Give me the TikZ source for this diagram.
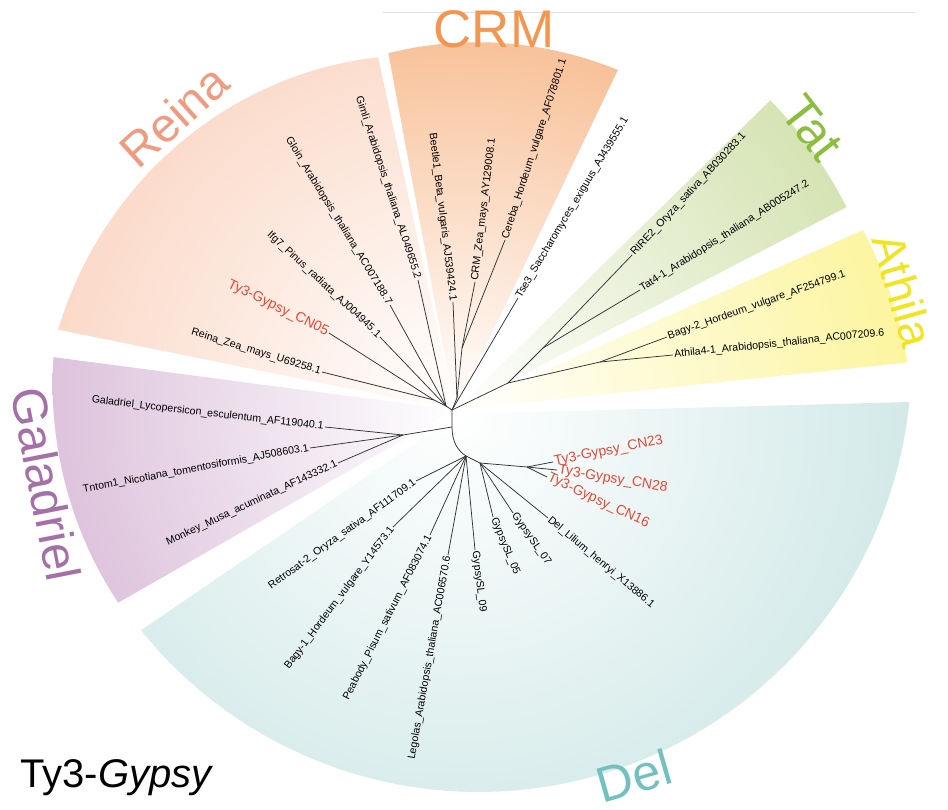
\documentclass[tikz,border=0pt]{standalone}
\usepackage{fontspec}
\setmainfont{Liberation Sans}
% fills of the clade fans
\definecolor{crmC}{RGB}{245,166,108}
\definecolor{reinaC}{RGB}{247,183,150}
\definecolor{galC}{RGB}{188,136,186}
\definecolor{tatC}{RGB}{188,210,132}
\definecolor{athC}{RGB}{250,238,95}
\definecolor{delC}{RGB}{176,217,215}
% clade titles
\definecolor{crmT}{RGB}{242,150,80}
\definecolor{reinaT}{RGB}{240,155,128}
\definecolor{galT}{RGB}{165,112,168}
\definecolor{tatT}{RGB}{140,190,60}
\definecolor{athT}{RGB}{242,228,30}
\definecolor{delT}{RGB}{115,192,192}
\definecolor{newred}{RGB}{228,72,52}
\begin{document}
\begin{tikzpicture}[x=1pt,y=-1pt,
  branch/.style={draw=black!80,line width=0.75pt},
  leafL/.style={anchor=east,inner sep=1.2pt,font=\fontsize{10.6}{12}\selectfont},
  leafR/.style={anchor=west,inner sep=1.2pt,font=\fontsize{10.6}{12}\selectfont},
  newL/.style={leafL,text=newred,font=\fontsize{14}{16}\selectfont},
  newR/.style={leafR,text=newred,font=\fontsize{14}{16}\selectfont},
  cladelab/.style={inner sep=0pt,font=\fontsize{50}{60}\selectfont}]
\useasboundingbox (0,0) rectangle (948,810);

% ---------- clade fans ----------
\begin{scope}
  \clip (455,410) -- plot[domain=0:1,samples=60] ({455+(377-14*\x)*cos(64.4+36.2*\x)},{410-(377-14*\x)*sin(64.4+36.2*\x)}) -- cycle;
  \shade[inner color=white,outer color=crmC] (455,410) circle[radius=540pt];
\end{scope}
\begin{scope}
  \clip (455,410) -- plot[domain=0:1,samples=60] ({455+(361+44*\x)*cos(102.3+66.3*\x)},{410-(361+44*\x)*sin(102.3+66.3*\x)}) -- cycle;
  \shade[inner color=white,outer color=reinaC] (455,410) circle[radius=780pt];
\end{scope}
\begin{scope}
  \clip (455,410) -- plot[domain=0:1,samples=60] ({455+(405-17*\x)*cos(172.5+37.3*\x)},{410-(405-17*\x)*sin(172.5+37.3*\x)}) -- cycle;
  \shade[inner color=white,outer color=galC] (455,410) circle[radius=800pt];
\end{scope}
\begin{scope}
  \clip (455,410) -- plot[domain=0:1,samples=60] ({455+(441+1*\x)*cos(27.4+17.1*\x)},{410-(441+1*\x)*sin(27.4+17.1*\x)}) -- cycle;
  \shade[inner color=white,outer color=tatC] (455,410) circle[radius=720pt];
\end{scope}
\begin{scope}
  \clip (455,410) -- plot[domain=0:1,samples=60] ({455+(455-9*\x)*cos(6+17.8*\x)},{410-(455-9*\x)*sin(6+17.8*\x)}) -- cycle;
  \shade[inner color=white,outer color=athC] (455,410) circle[radius=760pt];
\end{scope}
\begin{scope}
  \clip (458,414) -- plot[domain=-5.7:-141.2,samples=90] ({478.5+433*cos(\x)},{359-433*sin(\x)}) -- cycle;
  \shade[inner color=white,outer color=delC] (458,414) circle[radius=800pt];
\end{scope}

% faint rule along the top
\draw[black!12,line width=0.6pt] (383,12) -- (915,12);

% ---------- clade titles ----------
\node[cladelab,text=crmT,font=\fontsize{53}{60}\selectfont] (labCRM) at (494,29) {CRM};
\node[cladelab,text=reinaT,rotate=42,font=\fontsize{48}{56}\selectfont] (labReina) at (174,116) {Reina};
\node[cladelab,text=tatT,rotate=-52] (labTat) at (812,128) {Tat};
\node[cladelab,text=athT,rotate=-74,font=\fontsize{46}{56}\selectfont] (labAthila) at (903,290) {Athila};
\node[cladelab,text=galT,rotate=-79,font=\fontsize{49}{56}\selectfont] (labGal) at (46,484) {Galadriel};
\node[cladelab,text=delT,rotate=16] (labDel) at (634,776) {Del};
\node[inner sep=0pt,font=\fontsize{40}{48}\selectfont] (title) at (117,778) {Ty3-\textit{Gypsy}};

% ---------- internal nodes ----------
\coordinate (NT) at (452,410);
\coordinate (GA) at (452,427);
\coordinate (DR) at (466,456);
\coordinate (RJ) at (446,406);
\coordinate (RJ1) at (434,400);
\coordinate (CJ) at (457,398);
\coordinate (CJ1) at (462,348);
\coordinate (AJ) at (508,383);
\coordinate (TJ) at (543,348);
\coordinate (HJ) at (600,362);
\coordinate (GJ) at (403,435);
\coordinate (DJ) at (480,463);
\coordinate (CNJ) at (527,467);

% ---------- leaf tips ----------
\coordinate (tReinaZea) at (322,372);
\coordinate (tCN05) at (329,333);
\coordinate (tIfg7) at (380,337);
\coordinate (tGloin) at (390,305);
\coordinate (tGimli) at (418,280);
\coordinate (tBeetle) at (453,302);
\coordinate (tCRMZea) at (475,282);
\coordinate (tCereba) at (505,240);
\coordinate (tTse3) at (518,298);
\coordinate (tRIRE2) at (632,255);
\coordinate (tTat4) at (640,290);
\coordinate (tBagy2) at (667,337);
\coordinate (tAthila4) at (673,355);
\coordinate (tGal) at (325,427);
\coordinate (tTntom) at (310,448);
\coordinate (tMonkey) at (338,463);
\coordinate (tRetrosat) at (416,481);
\coordinate (tBagy1) at (393,527);
\coordinate (tPeabody) at (430,535);
\coordinate (tLegolas) at (448,555);
\coordinate (tSL09) at (475,550);
\coordinate (tSL05) at (493,517);
\coordinate (tSL07) at (513,513);
\coordinate (tDelLil) at (548,518);
\coordinate (tCN23) at (553,462);
\coordinate (tCN28) at (557,470);
\coordinate (tCN16) at (547,477);

% ---------- branches ----------
\draw[branch] (NT) -- (GA) .. controls (452,442) and (458,451) .. (DR);
\draw[branch] (NT) -- (RJ) -- (RJ1) -- (tReinaZea);
\draw[branch] (RJ1) -- (tCN05);
\draw[branch] (RJ) -- (tIfg7);
\draw[branch] (RJ) -- (tGloin);
\draw[branch] (RJ) -- (tGimli);
\draw[branch] (NT) -- (CJ) -- (tBeetle);
\draw[branch] (CJ) -- (CJ1) -- (tCRMZea);
\draw[branch] (CJ1) -- (tCereba);
\draw[branch] (NT) -- (tTse3);
\draw[branch] (NT) -- (AJ) -- (TJ) -- (tRIRE2);
\draw[branch] (TJ) -- (tTat4);
\draw[branch] (AJ) -- (HJ) -- (tBagy2);
\draw[branch] (HJ) -- (tAthila4);
\draw[branch] (GA) -- (GJ) -- (tGal);
\draw[branch] (GJ) -- (tTntom);
\draw[branch] (GJ) -- (tMonkey);
\draw[branch] (DR) -- (tRetrosat);
\draw[branch] (DR) -- (tBagy1);
\draw[branch] (DR) -- (tPeabody);
\draw[branch] (DR) -- (tLegolas);
\draw[branch] (DR) -- (tSL09);
\draw[branch] (DR) -- (DJ) -- (tSL05);
\draw[branch] (DJ) -- (tSL07);
\draw[branch] (DJ) -- (tDelLil);
\draw[branch] (DJ) -- (CNJ) -- (tCN23);
\draw[branch] (CNJ) -- (tCN28);
\draw[branch] (CNJ) -- (tCN16);

% ---------- leaf labels ----------
\node[leafL,rotate=-17] (lReinaZea) at (tReinaZea) {Reina\_Zea\_mays\_U69258.1};
\node[newL,rotate=-26] (lCN05) at (tCN05) {Ty3-Gypsy\_CN05};
\node[leafL,rotate=-43] (lIfg7) at (tIfg7) {Ifg7\_Pinus\_radiata\_AJ004945.1};
\node[leafL,rotate=-58.5] (lGloin) at (tGloin) {Gloin\_Arabidopsis\_thaliana\_AC007188.7};
\node[leafL,rotate=-72] (lGimli) at (tGimli) {Gimli\_Arabidopsis\_thaliana\_AL049655.2};
\node[leafL,rotate=-83] (lBeetle) at (tBeetle) {Beetle1\_Beta\_vulgaris\_AJ539424.1};
\node[leafR,rotate=83] (lCRMZea) at (tCRMZea) {CRM\_Zea\_mays\_AY129008.1};
\node[leafR,rotate=72] (lCereba) at (tCereba) {Cereba\_Hordeum\_vulgare\_AF078801.1};
\node[leafR,rotate=59] (lTse3) at (tTse3) {Tse3\_Saccharomyces\_exiguus\_AJ439555.1};
\node[leafR,rotate=47] (lRIRE2) at (tRIRE2) {RIRE2\_Oryza\_sativa\_AB030283.1};
\node[leafR,rotate=32.5] (lTat4) at (tTat4) {Tat4-1\_Arabidopsis\_thaliana\_AB005247.2};
\node[leafR,rotate=19.4] (lBagy2) at (tBagy2) {Bagy-2\_Hordeum\_vulgare\_AF254799.1};
\node[leafR,rotate=6] (lAthila4) at (tAthila4) {Athila4-1\_Arabidopsis\_thaliana\_AC007209.6};
\node[leafL,rotate=-6.6] (lGal) at (tGal) {Galadriel\_Lycopersicon\_esculentum\_AF119040.1};
\node[leafL,rotate=10.4] (lTntom) at (tTntom) {Tntom1\_Nicotiana\_tomentosiformis\_AJ508603.1};
\node[leafL,rotate=25] (lMonkey) at (tMonkey) {Monkey\_Musa\_acuminata\_AF143332.1};
\node[leafL,rotate=36] (lRetrosat) at (tRetrosat) {Retrosat-2\_Oryza\_sativa\_AF111709.1};
\node[leafL,rotate=53] (lBagy1) at (tBagy1) {Bagy-1\_Hordeum\_vulgare\_Y14573.1};
\node[leafL,rotate=63] (lPeabody) at (tPeabody) {Peabody\_Pisum\_sativum\_AF083074.1};
\node[leafL,rotate=80] (lLegolas) at (tLegolas) {Legolas\_Arabidopsis\_thaliana\_AC006570.6};
\node[leafR,rotate=-83] (lSL09) at (tSL09) {GypsySL\_09};
\node[leafR,rotate=-67.5] (lSL05) at (tSL05) {GypsySL\_05};
\node[leafR,rotate=-55] (lSL07) at (tSL07) {GypsySL\_07};
\node[leafR,rotate=-40] (lDelLil) at (tDelLil) {Del\_Lilium\_henryi\_X13886.1};
\node[newR,rotate=11] (lCN23) at (tCN23) {Ty3-Gypsy\_CN23};
\node[newR,rotate=-9.5] (lCN28) at (tCN28) {Ty3-Gypsy\_CN28};
\node[newR,rotate=-25] (lCN16) at (tCN16) {Ty3-Gypsy\_CN16};
\end{tikzpicture}
\end{document}
